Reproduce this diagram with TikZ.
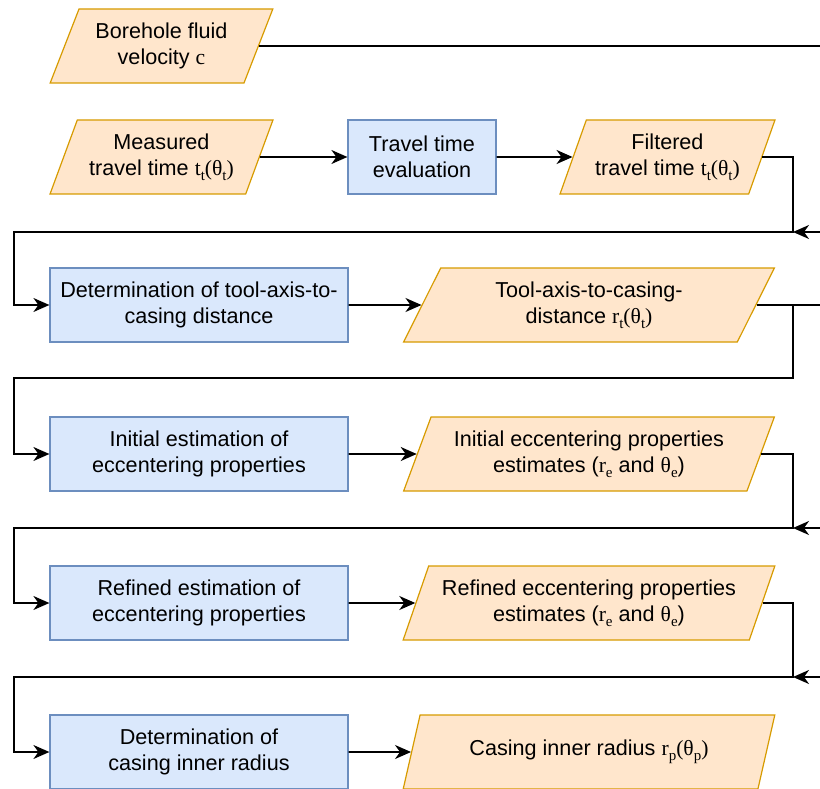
\documentclass[tikz,border=0pt]{standalone}
\usepackage[no-math]{fontspec}
\setmainfont{Liberation Sans}
\newfontfamily\serifvar{Liberation Serif}
\usepackage{tikz}
\usetikzlibrary{shapes.geometric, arrows.meta, positioning}

\definecolor{datafill}{HTML}{FFE6CC}
\definecolor{dataline}{HTML}{D79B00}
\definecolor{procfill}{HTML}{DAE8FC}
\definecolor{procline}{HTML}{6C8EBF}
\newcommand{\flowfont}{\fontsize{21.6}{26}\selectfont}
% serif quantity with lowered subscript
\newcommand{\qsub}[2]{#1\raisebox{-5pt}{\fontsize{15}{15}\selectfont #2}}

\tikzset{
  data block/.style={trapezium, trapezium left angle=63.4, trapezium right angle=116.6,
    trapezium stretches=true, fill=datafill, draw=dataline, line width=1.2pt,
    minimum height=74pt, inner sep=0pt, align=center, font=\flowfont},
  proc block/.style={rectangle, fill=procfill, draw=procline, line width=1.2pt,
    minimum height=74pt, inner sep=0pt, align=center, font=\flowfont},
  flow line/.style={line width=1.6pt},
  flow/.style={flow line, -{Stealth[length=16pt,width=14pt,inset=5pt]}},
}

\begin{document}
\begin{tikzpicture}[x=1pt,y=-1pt]
\useasboundingbox (0,0) rectangle (820,789);

% inputs
\node[data block, minimum width=223pt] (fluid) at (161.5,46) {Borehole fluid\\velocity {\serifvar c}};
\node[data block, minimum width=223pt] (measured) at (161.5,157) {Measured\\travel time {\serifvar\qsub{t}{t}(\qsub{θ}{t})}};
\node[proc block, minimum width=148pt] (tte) at (422,157) {Travel time\\evaluation};
\node[data block, minimum width=215pt] (filtered) at (667.5,157) {Filtered\\travel time {\serifvar\qsub{t}{t}(\qsub{θ}{t})}};

% processing steps
\node[proc block, minimum width=298pt] (det1) at (199,305) {Determination of tool-axis-to-\\casing distance};
\node[data block, minimum width=372pt] (dist) at (589,305) {Tool-axis-to-casing-\\distance {\serifvar\qsub{r}{t}(\qsub{θ}{t})}};
\node[proc block, minimum width=298pt] (init) at (199,454) {Initial estimation of\\eccentering properties};
\node[data block, minimum width=372pt] (initest) at (589,454) {Initial eccentering properties\\estimates ({\serifvar\qsub{r}{e}} and {\serifvar\qsub{θ}{e}})};
\node[proc block, minimum width=298pt] (refined) at (199,603) {Refined estimation of\\eccentering properties};
\node[data block, minimum width=372pt] (refest) at (589,603) {Refined eccentering properties\\estimates ({\serifvar\qsub{r}{e}} and {\serifvar\qsub{θ}{e}})};
\node[proc block, minimum width=298pt] (det2) at (199,752) {Determination of\\casing inner radius};
\node[data block, minimum width=372pt] (radius) at (589,752) {Casing inner radius {\serifvar\qsub{r}{p}(\qsub{θ}{p})}};

\coordinate (edge) at (820,0);
\coordinate (bus) at (14,0);
\coordinate (j1) at (793,232);
\coordinate (j2) at (793,378);
\coordinate (j3) at (793,528);
\coordinate (j4) at (793,677);

\foreach \a/\b in {measured/tte, tte/filtered, det1/dist, init/initest, refined/refest, det2/radius}
  \draw[flow] (\a.east) -- (\b.west);

\foreach \from/\j/\to in {filtered/j1/det1, dist/j2/init, initest/j3/refined, refest/j4/det2}
  \draw[flow] (\from.east) -| (\j) -- (\j -| bus) |- (\to.west);

\foreach \j in {j1,j3,j4}
  \draw[flow] (\j -| edge) -- (\j);

\draw[flow line] (fluid.east) -- (fluid.east -| edge);
\draw[flow line] (dist.east) -- (dist.east -| edge);

\end{tikzpicture}
\end{document}
